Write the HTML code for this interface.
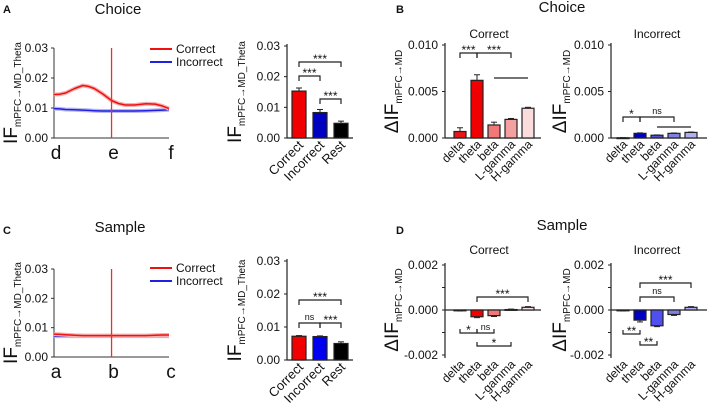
<!DOCTYPE html>
<html><head><meta charset="utf-8"><style>
body{margin:0;background:#fff;}
svg{display:block;font-family:"Liberation Sans",Arial,sans-serif;}
</style></head><body>
<svg id="fig" width="708" height="403" viewBox="0 0 708 403"></svg>
<script>
// ---- data ----
const lineX = [0,0.05,0.1,0.18,0.25,0.3,0.35,0.42,0.5,0.56,0.62,0.7,0.8,0.88,0.94,1];
const choiceCorrect = [0.0145,0.0146,0.015,0.0165,0.0175,0.0172,0.0165,0.0148,0.0125,0.0115,0.011,0.011,0.0114,0.0113,0.0107,0.0098];
const choiceIncorrect = [0.0098,0.0097,0.0095,0.0094,0.0093,0.0092,0.0091,0.009,0.009,0.009,0.009,0.009,0.0091,0.0092,0.0093,0.0094];
const sampleCorrect = [0.0078,0.0077,0.0076,0.0074,0.0073,0.0073,0.0073,0.0073,0.0073,0.0073,0.0073,0.0073,0.0073,0.0074,0.0075,0.0075];
const sampleIncorrect = [0.0071,0.0071,0.0071,0.0071,0.0071,0.0071,0.0071,0.0071,0.0071,0.0071,0.0071,0.0071,0.0071,0.0071,0.0071,0.0071];
const condCats = ["Correct","Incorrect","Rest"];
const choiceCond = [0.0153,0.0083,0.0048];
const choiceCondErr = [0.001,0.001,0.0007];
const sampleCond = [0.0072,0.0071,0.005];
const sampleCondErr = [0.0002,0.0002,0.0005];
const bandCats = ["delta","theta","beta","L-gamma","H-gamma"];
const choiceBandCorrect = [0.0007,0.0062,0.0014,0.002,0.0032];
const choiceBandCorrectErr = [0.0004,0.0006,0.0003,0.0001,0.0001];
const choiceBandIncorrect = [0.00002,0.0005,0.0003,0.0005,0.0006];
const choiceBandIncorrectErr = [0.00002,0.00005,0.00003,0.00004,0.00004];
const sampleBandCorrect = [-0.00002,-0.0003,-0.00025,0.00002,0.00012];
const sampleBandCorrectErr = [0.00002,0.00004,0.00004,0.00002,0.00003];
const sampleBandIncorrect = [-0.00002,-0.00045,-0.0007,-0.0002,0.00012];
const sampleBandIncorrectErr = [0.00002,0.00008,0.00004,0.00004,0.00003];
const condTicks = ["0.00","0.01","0.02","0.03"];
const bandTicksB = ["0.000","0.005","0.010"];
const bandTicksD = ["-0.002","0.000","0.002"];

const NS="http://www.w3.org/2000/svg";
const svg=document.getElementById('fig');
function mk(tag,attrs,parent,text){const e=document.createElementNS(NS,tag);for(const k in attrs)e.setAttribute(k,attrs[k]);if(text!==undefined)e.textContent=text;(parent||svg).appendChild(e);return e;}
function lin(d0,d1,r0,r1){return v=>r0+(v-d0)/(d1-d0)*(r1-r0);}

function txt(x,y,s,size,name,anchor,extra,parent){const t=mk('text',Object.assign({x:x,y:y,'font-size':size,'text-anchor':anchor||'middle',fill:'#111'},extra||{}),parent||svg,s);return t;}

function ylabel(x,yc,main,sub,name){
  const g=mk('g',{transform:`translate(${x},${yc}) rotate(-90)`});
  const t=mk('text',{x:0,y:0,'text-anchor':'middle','font-size':19,fill:'#111'},g);
  
  mk('tspan',{},t,main);mk('tspan',{'font-size':10,dy:4},t,sub);
}

function rotLabel(x,y,s,size){
  const g=mk('g',{transform:`translate(${x},${y}) rotate(-45)`});
  const t=mk('text',{x:0,y:0,'text-anchor':'end','font-size':size,fill:'#111'},g,s);
  
}

function linePanel(cfg){
  const sx=lin(0,1,cfg.x0,cfg.x1), sy=lin(0,0.03,cfg.yb,cfg.yt);
  const g=mk('g',{});
  mk('line',{x1:cfg.x0,y1:cfg.yt,x2:cfg.x0,y2:cfg.yb,stroke:'#333','stroke-width':1},g);
  mk('line',{x1:cfg.x0,y1:cfg.yb,x2:cfg.x1,y2:cfg.yb,stroke:'#333','stroke-width':1},g);
  condTicks.forEach((t,i)=>{const y=sy(i*0.01);mk('line',{x1:cfg.x0-3,y1:y,x2:cfg.x0,y2:y,stroke:'#333'},g);txt(cfg.x0-6,y+4,t,12,'y-tick-label','end');});
  cfg.xl.forEach((l,i)=>txt(sx(i/2)+2,cfg.yb+21,l,19,'x-tick-label'));
  [[cfg.inc,'#2020e0','#b8b8f0','incorrect-line'],[cfg.cor,'#f01010','#f4b0b0','correct-line']].forEach(([arr,c,cl,nm])=>{
    const pts=arr.map((v,i)=>sx(lineX[i])+','+sy(v)).join(' ');
    mk('polyline',{points:pts,fill:'none',stroke:cl,'stroke-width':4,'stroke-linejoin':'round'},g);
    const p=mk('polyline',{points:pts,fill:'none',stroke:c,'stroke-width':1.5,'stroke-linejoin':'round'},g);
    
  });
  const vl=mk('rect',{x:sx(0.5)-0.6,y:sy(cfg.vtop),width:1.3,height:cfg.yb-sy(cfg.vtop),fill:'#e8302e'},g);
  
  const lg=mk('g',{});
  mk('line',{x1:150,y1:cfg.ly,x2:172,y2:cfg.ly,stroke:'#f01010','stroke-width':2},lg);
  mk('line',{x1:150,y1:cfg.ly+13,x2:172,y2:cfg.ly+13,stroke:'#2020e0','stroke-width':2},lg);
  txt(176,cfg.ly+4,'Correct',12,'legend-correct','start',{},lg);
  txt(176,cfg.ly+17,'Incorrect',12,'legend-incorrect','start',{},lg);
  ylabel(17,(cfg.yt+cfg.yb)/2,'IF','mPFC→MD_Theta','y-axis-title');
}

function barPanel(cfg){
  const sy=lin(cfg.d0,cfg.d1,cfg.yb,cfg.yt);
  const g=mk('g',{});
  mk('line',{x1:cfg.ax,y1:cfg.yt-2,x2:cfg.ax,y2:cfg.yb+(cfg.below||0),stroke:'#222','stroke-width':1.2},g);
  const zy=sy(0);
  mk('line',{x1:cfg.ax,y1:zy,x2:cfg.ax+cfg.w,y2:zy,stroke:'#222','stroke-width':1.2},g);
  cfg.ticks.forEach((t)=>{const v=parseFloat(t);const y=sy(v);mk('line',{x1:cfg.ax-3,y1:y,x2:cfg.ax,y2:y,stroke:'#222'},g);txt(cfg.ax-7,y+4,t,12,'y-tick-label','end');});
  if(cfg.minor)cfg.minor.forEach(v=>{const y=sy(v);mk('line',{x1:cfg.ax-3,y1:y,x2:cfg.ax,y2:y,stroke:'#222'},g);});
  const xs=cfg.vals.map((v,i)=>cfg.ax+cfg.off+i*cfg.step);
  cfg.vals.forEach((v,i)=>{
    const x=xs[i],y=sy(v),e=cfg.err[i];
    const top=Math.min(y,zy),h=Math.max(Math.abs(zy-y),0.8);
    const ey=v>=0?sy(v+e):sy(v-e);
    mk('line',{x1:x,y1:y,x2:x,y2:ey,stroke:'#222','stroke-width':1},g);
    mk('line',{x1:x-3,y1:ey,x2:x+3,y2:ey,stroke:'#222','stroke-width':1},g);
    const r=mk('rect',{x:x-cfg.bw/2,y:top,width:cfg.bw,height:h,fill:cfg.colors[i],stroke:'#222','stroke-width':1.2},g);
    
    rotLabel(x+5,cfg.xly,cfg.cats[i],cfg.xfs||13);
  });
  (cfg.brackets||[]).forEach(b=>{
    const x1=xs[b[0]],x2=xs[b[1]],y=b[2],d=b[4]||4;
    if(b[5]==='line'){mk('line',{x1:x1,y1:y,x2:x2,y2:y,stroke:'#222','stroke-width':1.2},g);return;}
    mk('polyline',{points:`${x1},${y+d} ${x1},${y} ${x2},${y} ${x2},${y+d}`,fill:'none',stroke:'#222','stroke-width':1.2},g);
    txt((x1+x2)/2,b[3]==='ns'?y-3:y+1,b[3],b[3]==='ns'?9:12,'significance-label');
  });
  ylabel(cfg.ylx,(cfg.yt+cfg.yb)/2,cfg.ymain,cfg.ysub,'y-axis-title');
}

// titles
txt(3,13,'A',11,'panel-label-a','start',{'font-weight':'bold'});
txt(118,14,'Choice',15,'panel-a-title');
txt(396,13,'B',11,'panel-label-b','start',{'font-weight':'bold'});
txt(562,12,'Choice',15,'panel-b-title');
txt(489,38,'Correct',12,'subplot-title-correct');
txt(657,38,'Incorrect',12,'subplot-title-incorrect');
txt(3,234,'C',11,'panel-label-c','start',{'font-weight':'bold'});
txt(120,232,'Sample',15,'panel-c-title');
txt(396,234,'D',11,'panel-label-d','start',{'font-weight':'bold'});
txt(562,230,'Sample',15,'panel-d-title');
txt(489,254,'Correct',12,'subplot-title-correct');
txt(657,254,'Incorrect',12,'subplot-title-incorrect');

linePanel({name:'choice-line-chart',x0:54,x1:169,yt:48,yb:138,cor:choiceCorrect,inc:choiceIncorrect,xl:['d','e','f'],ly:49,vtop:0.03});
linePanel({name:'sample-line-chart',x0:54,x1:169,yt:269,yb:357,cor:sampleCorrect,inc:sampleIncorrect,xl:['a','b','c'],ly:268,vtop:0.03});

barPanel({name:'choice-condition-bars',ax:287,w:66,d0:0,d1:0.03,yt:46,yb:138,ticks:condTicks,vals:choiceCond,err:choiceCondErr,cats:condCats,colors:['#f00000','#0000c0','#000'],off:12,step:21,bw:14,xly:146,ylx:241,ymain:'IF',ysub:'mPFC→MD_Theta',
 brackets:[[0,2,62,'***',5],[0,1,76,'***',5],[1,2,99,'***',5]]});
barPanel({name:'sample-condition-bars',ax:287,w:66,d0:0,d1:0.03,yt:261,yb:360,ticks:condTicks,vals:sampleCond,err:sampleCondErr,cats:condCats,colors:['#f00000','#0000f0','#000'],off:12,step:21,bw:14,xly:368,ylx:241,ymain:'IF',ysub:'mPFC→MD_Theta',
 brackets:[[0,2,300,'***',5],[0,1,323,'ns',5],[1,2,323,'***',5]]});

barPanel({name:'choice-band-correct-bars',ax:445,w:96,d0:0,d1:0.01,yt:45,yb:138,ticks:bandTicksB,vals:choiceBandCorrect,err:choiceBandCorrectErr,cats:bandCats,colors:['#e81418','#f00000','#f07878','#f4a0a0','#fbdcdc'],off:15,step:17,bw:12,xly:145,ylx:398,ymain:'ΔIF',ysub:'mPFC→MD',xfs:12,
 brackets:[[0,1,53,'***',5],[1,3,53,'***',5],[2,4,78,'',0,'line']]});
barPanel({name:'choice-band-incorrect-bars',ax:611,w:96,d0:0,d1:0.01,yt:45,yb:138,ticks:bandTicksB,vals:choiceBandIncorrect,err:choiceBandIncorrectErr,cats:bandCats,colors:['#0000a0','#0000c0','#5050d0','#8080e0','#b0b0f0'],off:12,step:17,bw:12,xly:145,ylx:566,ymain:'ΔIF',ysub:'mPFC→MD',xfs:12,
 brackets:[[0,1,117,'*',5],[1,3,117,'ns',5],[2,4,127,'',0,'line']]});
barPanel({name:'sample-band-correct-bars',ax:445,w:96,d0:-0.002,d1:0.002,yt:265,yb:355,below:3,ticks:bandTicksD,minor:[0.001,-0.001],vals:sampleBandCorrect,err:sampleBandCorrectErr,cats:bandCats,colors:['#e81418','#f00000','#f07878','#f4a0a0','#fbdcdc'],off:15,step:17,bw:12,xly:365,ylx:398,ymain:'ΔIF',ysub:'mPFC→MD',xfs:12,
 brackets:[[1,4,297,'***',5],[0,1,333,'*',-4],[1,2,333,'ns',-4],[1,3,346,'*',-4]]});
barPanel({name:'sample-band-incorrect-bars',ax:611,w:96,d0:-0.002,d1:0.002,yt:265,yb:355,below:3,ticks:bandTicksD,minor:[0.001,-0.001],vals:sampleBandIncorrect,err:sampleBandIncorrectErr,cats:bandCats,colors:['#0000a0','#0000c0','#5050f0','#8080e0','#b0b0f0'],off:12,step:17,bw:12,xly:365,ylx:566,ymain:'ΔIF',ysub:'mPFC→MD',xfs:12,
 brackets:[[1,4,283,'***',5],[1,3,297,'ns',5],[0,1,334,'**',-4],[1,2,345,'**',-4]]});
</script>
</body></html>
